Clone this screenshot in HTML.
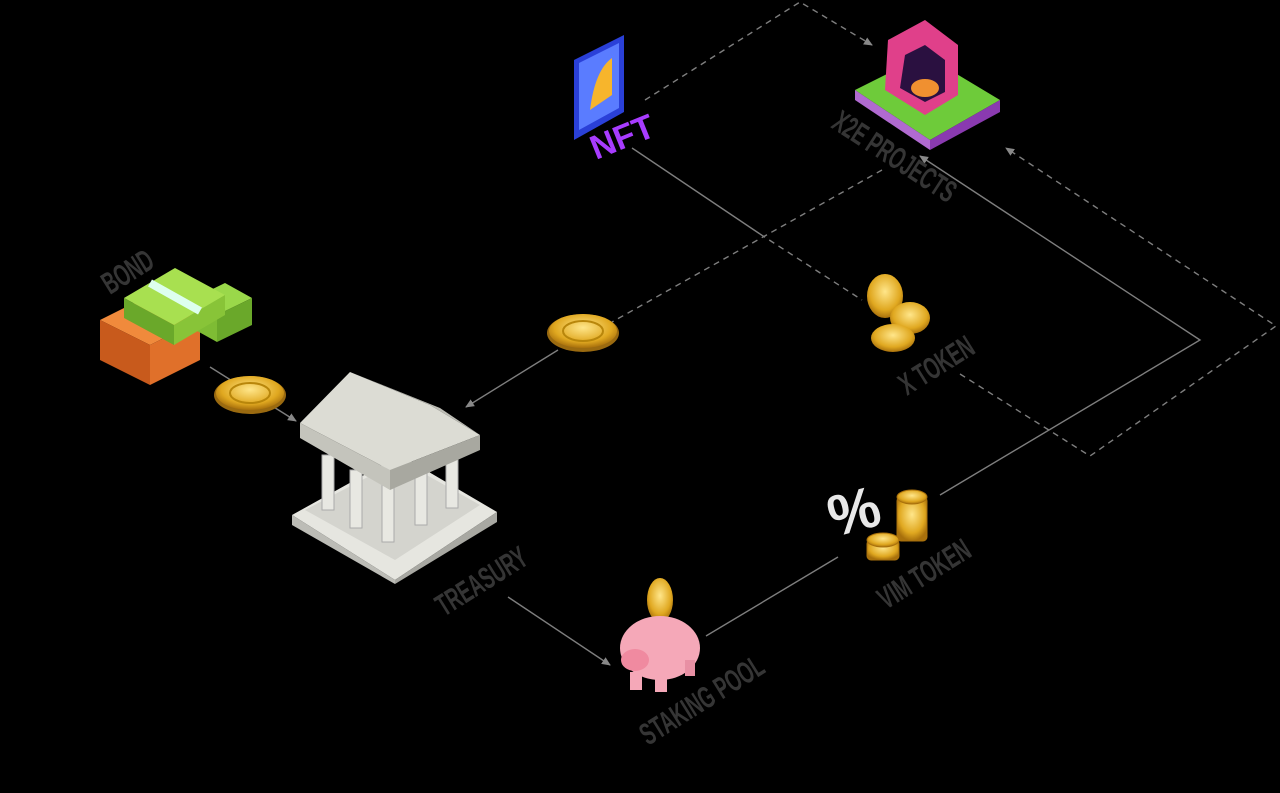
<!DOCTYPE html>
<html><head><meta charset="utf-8"><style>
html,body{margin:0;padding:0;background:#000;width:1280px;height:793px;overflow:hidden}
svg{display:block}
.lbl{font-family:"Liberation Sans",sans-serif;font-weight:bold;fill:#353535;font-size:31px}
</style></head><body>
<svg width="1280" height="793" viewBox="0 0 1280 793" xmlns="http://www.w3.org/2000/svg">
<defs>
<marker id="ar" markerWidth="10" markerHeight="10" refX="8" refY="5" orient="auto" markerUnits="userSpaceOnUse"><path d="M0,1 L9,5 L0,9 z" fill="#888"/></marker>
<radialGradient id="coin" cx="50%" cy="40%" r="60%"><stop offset="0" stop-color="#ffe68a"/><stop offset="0.7" stop-color="#e0a820"/><stop offset="1" stop-color="#a8700c"/></radialGradient>
</defs>
<g stroke="#7e7e7e" stroke-width="1.4" fill="none">
<polyline points="645,100 800,2 872,45" stroke-dasharray="6,5" marker-end="url(#ar)"/>
<line x1="632" y1="148" x2="760" y2="234"/>
<line x1="760" y1="234" x2="862" y2="300" stroke-dasharray="6,5"/>
<line x1="882" y1="170" x2="612" y2="322" stroke-dasharray="6,5"/>
<line x1="558" y1="350" x2="466" y2="407" marker-end="url(#ar)"/>
<polyline points="940,495 1200,340 920,156" marker-end="url(#ar)"/>
<polyline points="960,374 1090,456 1276,326 1006,148" stroke-dasharray="6,5" marker-end="url(#ar)"/>
<line x1="210" y1="367" x2="296" y2="421" marker-end="url(#ar)"/>
<line x1="508" y1="597" x2="610" y2="665" marker-end="url(#ar)"/>
<line x1="706" y1="636" x2="838" y2="557"/>
</g>

<g><ellipse cx="583" cy="333" rx="36" ry="19" fill="#9a6a10"/><ellipse cx="583" cy="331" rx="34" ry="17" fill="url(#coin)"/><ellipse cx="583" cy="331" rx="20" ry="10" fill="none" stroke="#b8860b" stroke-width="2"/></g>
<g><ellipse cx="250" cy="395" rx="36" ry="19" fill="#9a6a10"/><ellipse cx="250" cy="393" rx="34" ry="17" fill="url(#coin)"/><ellipse cx="250" cy="393" rx="20" ry="10" fill="none" stroke="#b8860b" stroke-width="2"/></g>

<polygon points="100,320 150,295 200,320 150,345" fill="#f08a3c"/>
<polygon points="100,320 150,345 150,385 100,360" fill="#c85a1c"/>
<polygon points="150,345 200,320 200,360 150,385" fill="#e0702a"/>
<polygon points="190,300 225,283 252,298 217,315" fill="#9ad84a"/>
<polygon points="217,315 252,298 252,325 217,342" fill="#6aa82a"/>
<polygon points="190,300 217,315 217,342 190,327" fill="#7ebc34"/>
<polygon points="124,298 175,268 225,295 174,325" fill="#a8e050"/>
<polygon points="124,298 174,325 174,345 124,318" fill="#6aa82a"/>
<polygon points="174,325 225,295 225,315 174,345" fill="#88c438"/>
<line x1="150" y1="283" x2="200" y2="311" stroke="#dfe" stroke-width="8"/>

<polygon points="292,515 400,455 497,512 395,580" fill="#e6e6e0"/>
<polygon points="292,515 395,580 395,584 292,525" fill="#bcbcb6"/>
<polygon points="395,580 497,512 497,522 395,584" fill="#a8a8a2"/>
<polygon points="305,510 400,460 480,505 395,560" fill="#d4d4ce"/>
<g fill="#e8e8e2" stroke="#aaa">
<rect x="322" y="455" width="12" height="55"/><rect x="350" y="470" width="12" height="58"/><rect x="382" y="480" width="12" height="62"/><rect x="415" y="465" width="12" height="60"/><rect x="446" y="450" width="12" height="58"/></g>
<polygon points="300,423 350,372 430,405 480,435 390,470" fill="#dcdcd4"/>
<polygon points="350,372 430,405 480,435 440,408" fill="#bdbdb5"/>
<polygon points="300,423 390,470 390,490 300,438" fill="#c4c4bc"/>
<polygon points="390,470 480,435 480,450 390,490" fill="#a8a8a0"/>

<polygon points="574,60 624,35 624,112 574,140" fill="#2a40d8"/>
<polygon points="579,63 619,43 619,108 579,130" fill="#5a7cff"/>
<path d="M590,110 Q595,70 612,58 L612,95 z" fill="#f7b52c"/>
<text x="596" y="160" transform="rotate(-22 596 160)" font-family="Liberation Sans,sans-serif" font-weight="bold" font-size="34" fill="#a83cff">NFT</text>

<polygon points="855,90 925,55 1000,100 930,140" fill="#6ecb3a"/>
<polygon points="855,90 930,140 930,150 855,100" fill="#b06ad0"/>
<polygon points="930,140 1000,100 1000,112 930,150" fill="#8a3ab0"/>
<path d="M885,90 L888,40 L925,20 L958,45 L958,95 L925,115 z" fill="#e0408a"/>
<path d="M900,88 L905,55 L925,45 L945,60 L945,92 L925,102 z" fill="#2a1040"/>
<ellipse cx="925" cy="88" rx="14" ry="9" fill="#f09030"/>

<ellipse cx="885" cy="296" rx="18" ry="22" fill="url(#coin)"/>
<ellipse cx="910" cy="318" rx="20" ry="16" fill="url(#coin)"/>
<ellipse cx="893" cy="338" rx="22" ry="14" fill="url(#coin)"/>

<text x="828" y="530" font-family="Liberation Sans,sans-serif" font-weight="bold" font-size="58" fill="#e8e8e8" transform="rotate(-15 858 510)">%</text>
<g fill="url(#coin)" stroke="#a8700c">
<rect x="897" y="497" width="30" height="44" rx="4"/><ellipse cx="912" cy="497" rx="15" ry="7"/>
<rect x="867" y="540" width="32" height="20" rx="4"/><ellipse cx="883" cy="540" rx="16" ry="7"/></g>

<ellipse cx="660" cy="600" rx="13" ry="22" fill="url(#coin)"/>
<ellipse cx="660" cy="648" rx="40" ry="32" fill="#f5a8b8"/>
<ellipse cx="635" cy="660" rx="14" ry="11" fill="#f08aa0"/>
<rect x="630" y="672" width="12" height="18" fill="#f5a8b8"/><rect x="655" y="676" width="12" height="16" fill="#f5a8b8"/><rect x="685" y="660" width="10" height="16" fill="#e890a4"/>

<text class="lbl" transform="translate(110,295) rotate(-32) scale(0.6,1)">BOND</text>
<text class="lbl" transform="translate(830,127) rotate(33) scale(0.6,1)">X2E PROJECTS</text>
<text class="lbl" transform="translate(907,396) rotate(-32) scale(0.6,1)">X TOKEN</text>
<text class="lbl" transform="translate(444,617) rotate(-32) scale(0.6,1)">TREASURY</text>
<text class="lbl" transform="translate(648,746) rotate(-32) scale(0.6,1)">STAKING POOL</text>
<text class="lbl" transform="translate(886,610) rotate(-32) scale(0.6,1)">VIM TOKEN</text>
</svg>
</body></html>
